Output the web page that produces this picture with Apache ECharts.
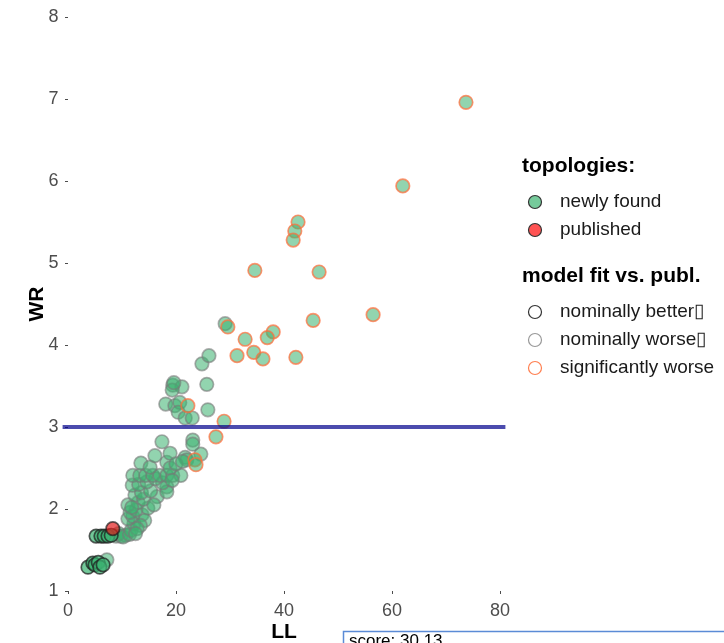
<!DOCTYPE html>
<html>
<head>
<meta charset="utf-8">
<script src="https://cdn.jsdelivr.net/npm/echarts@6/dist/echarts.min.js"></script>
<style>
html,body{margin:0;padding:0;background:#fff;}
#chart{width:724px;height:643px;}
</style>
</head>
<body>
<div id="chart"></div>
<script>
// ---- data (LL, WR) ----
const xTicks = [0, 20, 40, 60, 80];
const yTicks = [1, 2, 3, 4, 5, 6, 7, 8];
const threshold = 3;

const betterPoints = [
  [3.7,1.29],[4.6,1.34],[5.0,1.32],[5.6,1.35],[5.9,1.29],[6.5,1.32],
  [5.2,1.67],[6.1,1.67],[6.7,1.67],[7.4,1.67],[8.0,1.68]
];
const publishedPoints = [[8.3,1.76]];
const worsePoints = [
  [7.2,1.38],
  [8.9,1.67],[9.8,1.67],[10.7,1.68],[9.4,1.70],[10.2,1.66],[11.4,1.69],
  [11.7,1.74],[12.2,1.82],[11.1,1.88],[12.0,1.91],[13.7,1.93],[11.5,1.96],[12.6,1.99],
  [14.8,2.01],[11.1,2.05],[13.0,2.08],[12.4,2.17],[14.0,2.12],[16.5,2.15],[14.2,1.86],[13.4,1.80],
  [12.8,1.76],[11.8,2.02],[13.6,2.20],[15.3,2.22],[15.9,2.05],[12.5,1.70],
  [11.9,2.29],[13.1,2.30],[18.3,2.27],[18.3,2.21],[17.5,2.32],[14.6,2.33],[16.2,2.37],
  [12.0,2.41],[13.3,2.41],[14.4,2.41],[15.7,2.41],[17.0,2.41],[18.3,2.41],[19.4,2.41],[20.9,2.41],
  [13.5,2.56],[15.2,2.51],[18.3,2.57],[18.9,2.50],[19.3,2.35],[16.1,2.65],[18.9,2.68],
  [21.7,2.63],[22.0,2.60],[24.6,2.67],[17.4,2.82],[23.1,2.84],[23.1,2.79],[20.0,2.55],[21.2,2.58],
  [19.4,3.51],[21.1,3.49],[19.3,3.45],[19.6,3.54],[18.1,3.28],[19.8,3.26],[20.7,3.30],
  [20.4,3.18],[21.7,3.11],[23.0,3.11],[25.9,3.21],[25.7,3.52],[24.8,3.77],[26.1,3.87],[29.1,4.26]
];
const sigWorsePoints = [
  [73.7,6.96],[62.0,5.94],[42.6,5.50],[42.0,5.39],[41.7,5.28],[34.6,4.91],[46.5,4.89],
  [56.5,4.37],[45.4,4.30],[29.6,4.22],[38.0,4.16],[36.9,4.09],[32.8,4.07],[34.4,3.91],
  [31.3,3.87],[36.1,3.83],[42.2,3.85],[22.2,3.26],[28.9,3.07],[27.4,2.88],[23.5,2.60],[23.7,2.54]
];

const FONT = '"Liberation Sans", Arial, sans-serif';
const chart = echarts.init(document.getElementById('chart'));

function pointSeries(name, data, fill, border, z) {
  return {
    name: name, type: 'scatter', data: data, symbol: 'circle', symbolSize: 13.5,
    clip: false, z: z,
    itemStyle: { color: fill, borderColor: border, borderWidth: 1.7 },
    emphasis: { disabled: true }
  };
}

const legendX = 535, textX = 560;
function ltext(y, s, bold, x) {
  return { type: 'text', x: x || textX, y: y,
    style: { text: s, font: (bold ? 'bold 21px ' : '19px ') + FONT, fill: bold ? '#000' : '#1a1a1a', verticalAlign: 'middle' } };
}
function lcircle(y, fill, stroke) {
  return { type: 'circle', shape: { cx: legendX, cy: y, r: 6.5 }, style: { fill: fill, stroke: stroke, lineWidth: 1.2 } };
}
const legendGraphics = [
  ltext(166, 'topologies:', true, 522),
  lcircle(202, 'rgba(60,179,113,0.7)', '#333'),
  ltext(202, 'newly found'),
  lcircle(230, 'rgba(255,40,40,0.8)', '#333'),
  ltext(230, 'published'),
  ltext(276, 'model fit vs. publ.', true, 522),
  lcircle(312, '#fff', '#333'),
  ltext(312, 'nominally better\u25AF'),
  lcircle(340, '#fff', '#999'),
  ltext(340, 'nominally worse\u25AF'),
  lcircle(368, '#fff', '#ff7f50'),
  ltext(368, 'significantly worse'),
  // tooltip box remnant at bottom
  { type: 'rect', shape: { x: 343.5, y: 631.5, width: 390, height: 30 }, style: { fill: '#fff', stroke: '#5b8bd6', lineWidth: 1.5 }, z: 100 },
  { type: 'text', x: 349, y: 633, style: { text: 'score: 30.13', font: '17px ' + FONT, fill: '#000' }, z: 101 }
];

const axisLabelStyle = { color: '#4d4d4d', fontSize: 18, fontFamily: FONT };

chart.setOption({
  animation: false,
  backgroundColor: '#fff',
  grid: { left: 62.6, right: 218.6, top: 17, bottom: 52, containLabel: false, outerBoundsMode: 'none' },
  xAxis: {
    type: 'value', min: -1, max: 81,
    name: 'LL', nameLocation: 'middle', nameGap: 31, nameMoveOverlap: false,
    nameTextStyle: { fontSize: 21, fontWeight: 'bold', color: '#000', fontFamily: FONT },
    axisLine: { show: false },
    splitLine: { show: false },
    axisTick: { show: true, length: 3, customValues: xTicks, lineStyle: { color: '#4d4d4d' } },
    axisLabel: Object.assign({ customValues: xTicks, margin: 11 }, axisLabelStyle)
  },
  yAxis: {
    type: 'value', min: 1, max: 8, interval: 1,
    name: 'WR', nameLocation: 'middle', nameGap: 15, nameRotate: 90, nameMoveOverlap: false,
    nameTextStyle: { fontSize: 21, fontWeight: 'bold', color: '#000', fontFamily: FONT },
    axisLine: { show: false },
    splitLine: { show: false },
    axisTick: { show: true, length: 3, lineStyle: { color: '#4d4d4d' } },
    axisLabel: Object.assign({ margin: 4 }, axisLabelStyle)
  },
  series: [
    pointSeries('nominally worse', worsePoints, 'rgba(60,179,113,0.7)', 'rgba(120,120,120,0.75)', 2),
    pointSeries('significantly worse', sigWorsePoints, 'rgba(60,179,113,0.7)', 'rgba(255,110,60,0.9)', 3),
    pointSeries('nominally better', betterPoints, 'rgba(60,179,113,0.9)', 'rgba(30,30,30,0.9)', 4),
    pointSeries('published', publishedPoints, 'rgba(225,25,25,0.85)', 'rgba(30,30,30,0.9)', 5),
    {
      name: 'threshold', type: 'line', z: 6, symbol: 'none', silent: true,
      data: [[-1, threshold], [81, threshold]],
      lineStyle: { color: 'rgba(0,0,139,0.7)', width: 4 }
    }
  ],
  graphic: legendGraphics
});
</script>
</body>
</html>
